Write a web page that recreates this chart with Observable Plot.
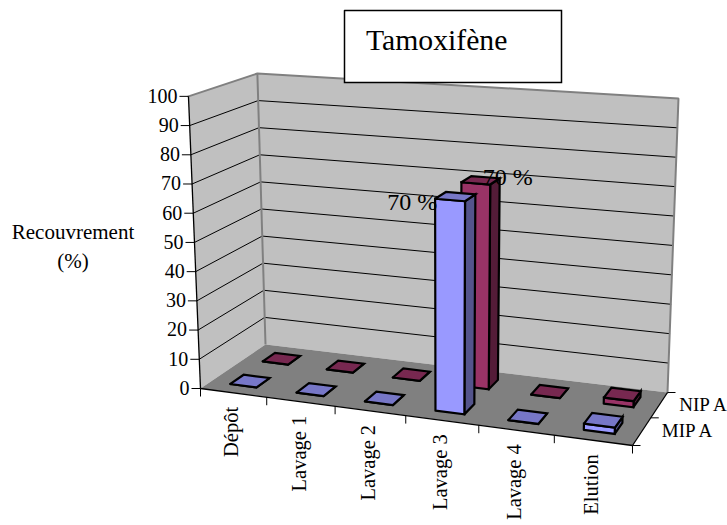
<!DOCTYPE html>
<html><head><meta charset="utf-8">
<script src="https://cdn.jsdelivr.net/npm/d3@7"></script>
<script src="https://cdn.jsdelivr.net/npm/@observablehq/plot@0.6"></script>
<style>html,body{margin:0;padding:0;background:#fff}svg{display:block}</style>
</head><body><div id="chart"></div>
<script>
const categories = ["Dépôt","Lavage 1","Lavage 2","Lavage 3","Lavage 4","Elution"];
const seriesNames = ["MIP A","NIP A"];
const mipValues = [0,0,0,70,0,2];
const nipValues = [0,0,0,70,0,2];
const valueTicks = [0,10,20,30,40,50,60,70,80,90,100];
const title = "Tamoxifène";
const yTitle = ["Recouvrement","(%)"];

// Perspective of the 3-D box: floor corners in order front-left, front-right, back-right, back-left
const floorQuad = [[200,388],[632,445],[667,392],[265,344]];
const vanish = [445,6339];              // vertical vanishing point
const heightInv = [20.37,-1.9,1.75];    // inverse height ratio: base, per u, per v
function homography(q){
  const [[x0,y0],[x1,y1],[x2,y2],[x3,y3]] = q;
  const dx1=x1-x2,dx2=x3-x2,sx=x0-x1+x2-x3,dy1=y1-y2,dy2=y3-y2,sy=y0-y1+y2-y3;
  const det=dx1*dy2-dx2*dy1;
  const g=(sx*dy2-dx2*sy)/det,h=(dx1*sy-sx*dy1)/det;
  const a=x1-x0+g*x1,b=x3-x0+h*x3,d=y1-y0+g*y1,e=y3-y0+h*y3;
  return (u,v)=>{const w=g*u+h*v+1;return [(a*u+b*v+x0)/w,(d*u+e*v+y0)/w];};
}
const hFloor=homography(floorQuad);
function P(cat,depth,val){ // cat in 0..n, depth in 0..2, val in 0..100
  const u=cat/categories.length,v=depth/seriesNames.length,t=val/100;
  const a=hFloor(u,v);
  const r=t/(heightInv[0]+heightInv[1]*u+heightInv[2]*v);
  return {x:a[0]+(a[0]-vanish[0])*r,y:a[1]+(a[1]-vanish[1])*r};
}
const face=(pts,fill,stroke,sw)=>Plot.line([...pts,pts[0]],{x:"x",y:"y",fill,stroke,strokeWidth:sw,strokeLinejoin:"miter",strokeMiterlimit:8});
const seg=(a,b,stroke,sw)=>Plot.line([a,b],{x:"x",y:"y",stroke,strokeWidth:sw,strokeLinecap:"butt"});
const off=(p,dx,dy)=>({x:p.x+dx,y:p.y+dy});
const nC=categories.length,nS=seriesNames.length;
const serif="Liberation Serif";
const marks=[];
// walls and floor
marks.push(face([P(0,0,0),P(0,nS,0),P(0,nS,100),P(0,0,100)],"#C0C0C0","none",0));
marks.push(face([P(0,nS,0),P(nC,nS,0),P(nC,nS,100),P(0,nS,100)],"#C0C0C0","none",0));
marks.push(face([P(0,0,0),P(nC,0,0),P(nC,nS,0),P(0,nS,0)],"#808080","none",0));
// gridlines
valueTicks.filter(v=>v>0&&v<100).forEach(v=>{
  marks.push(Plot.line([P(0,0,v),P(0,nS,v),P(nC,nS,v)],{x:"x",y:"y",stroke:"#000",strokeWidth:1}));
});
// wall borders
marks.push(Plot.line([P(0,0,100),P(0,nS,100),P(nC,nS,100),P(nC,nS,0)],{x:"x",y:"y",stroke:"#808080",strokeWidth:2,strokeLinejoin:"miter"}));
marks.push(seg(P(0,nS,0),P(0,nS,100),"#808080",2));
// axes
marks.push(seg(P(0,0,0),P(0,0,100),"#000",1.3));
marks.push(seg(P(0,0,0),P(nC,0,0),"#000",1.3));
marks.push(seg(P(nC,0,0),P(nC,nS,0),"#000",1.3));
valueTicks.forEach(v=>marks.push(seg(off(P(0,0,v),-9,0),P(0,0,v),"#000",1)));
d3.range(nC+1).forEach(i=>marks.push(seg(P(i,0,0),off(P(i,0,0),0,8),"#000",1)));
d3.range(nS+1).forEach(i=>marks.push(seg(P(nC,i,0),off(P(nC,i,0),8,0),"#000",1)));
// bars: back series first
function bar(cat,s,val,front,top,side){
  const u0=cat+.3,u1=cat+.7,v0=s+.3,v1=s+.7;
  const sw=2.2;
  marks.push(face([P(u1,v0,0),P(u1,v1,0),P(u1,v1,val),P(u1,v0,val)],side,"#000",sw));
  marks.push(face([P(u0,v0,0),P(u1,v0,0),P(u1,v0,val),P(u0,v0,val)],front,"#000",sw));
  marks.push(face([P(u0,v0,val),P(u1,v0,val),P(u1,v1,val),P(u0,v1,val)],top,"#000",sw));
}
nipValues.forEach((v,i)=>bar(i,1,v,"#993366","#772850","#541C38"));
mipValues.forEach((v,i)=>bar(i,0,v,"#9999FF","#7777C7","#54548C"));
// text
const txt=(data,o)=>Plot.text(data,{fontFamily:serif,fill:"#000",...o});
marks.push(txt(valueTicks.map(v=>({v,...off(P(0,0,v),-11,0)})),{x:"x",y:"y",text:d=>String(d.v),textAnchor:"end",fontSize:20}));
marks.push(txt(categories.map((c,i)=>({c,...off(P(i+.5,0,0),-1.5,14)})),{x:"x",y:"y",text:"c",rotate:-90,textAnchor:"end",fontSize:20.5}));
marks.push(txt(seriesNames.map((c,i)=>({c,...off(P(nC,i+.5,0),20,0)})),{x:"x",y:"y",text:"c",textAnchor:"start",fontSize:19}));
const peak=categories.indexOf("Lavage 3");
marks.push(txt([{...off(P(peak+.5,.5,mipValues[peak]),-43,6),l:mipValues[peak]+" %"},{...off(P(peak+.5,1.5,nipValues[peak]),27,-3),l:nipValues[peak]+" %"}],{x:"x",y:"y",text:"l",fontSize:24}));
marks.push(txt(yTitle.map((t,i)=>({t,i})),{x:()=>72.5,y:d=>232+d.i*29,text:"t",fontSize:21}));
marks.push(face([{x:344,y:10},{x:561,y:10},{x:561,y:82},{x:344,y:82}],"#fff","#000",1.5));
marks.push(txt([title],{x:()=>365.5,y:()=>40,text:d=>d,textAnchor:"start",fontSize:29.7}));

const chart=Plot.plot({width:727,height:525,margin:0,
  x:{domain:[0,727],range:[0,727],axis:null},
  y:{domain:[0,525],range:[0,525],axis:null},
  style:{background:"#fff"},marks});
document.getElementById("chart").append(chart);
</script></body></html>
